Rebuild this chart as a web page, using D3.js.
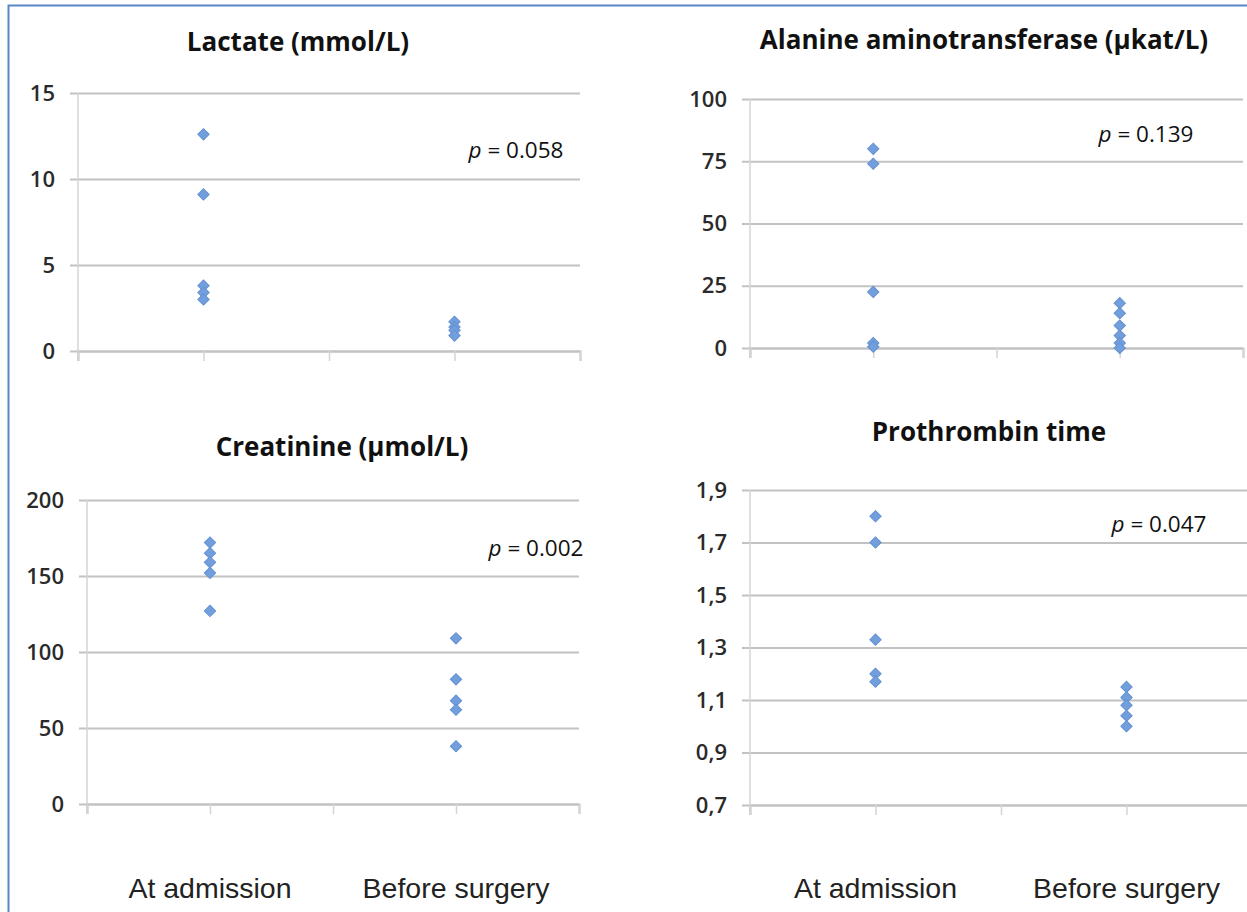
<!DOCTYPE html>
<html>
<head>
<meta charset="utf-8">
<script src="https://cdn.jsdelivr.net/npm/d3@7"></script>
<style>
  body { margin: 0; background: #fff; }
  svg { display: block; }
  .title { font-family: "Open Sans", sans-serif; font-weight: bold; font-size: 26px; fill: #111; }
  .tick text { font-family: "Open Sans", sans-serif; font-size: 22px; font-weight: 600; fill: #2a2a2a; }
  .cat { font-family: "Liberation Sans", Arial, sans-serif; font-size: 28.5px; fill: #222; }
  .pval { font-family: "Open Sans", sans-serif; font-size: 22.5px; fill: #111; }
</style>
</head>
<body>
<div id="chart"></div>
<script>
// data
let categories = ["At admission", "Before surgery"];

let lactateAdmission = [12.6, 9.1, 3.8, 3.4, 3.0];
let lactateSurgery = [1.7, 1.4, 1.2, 0.9];

let altAdmission = [80, 74, 22.5, 2, 0.5];
let altSurgery = [18, 14, 9, 5, 2, 0];

let creatAdmission = [172, 165, 159, 152, 127];
let creatSurgery = [109, 82, 68, 62, 38];

let ptAdmission = [1.8, 1.7, 1.33, 1.2, 1.17];
let ptSurgery = [1.15, 1.11, 1.08, 1.04, 1.0];

let titles = ["Lactate (mmol/L)", "Alanine aminotransferase (\u00b5kat/L)", "Creatinine (\u00b5mol/L)", "Prothrombin time"];
let pValues = ["0.058", "0.139", "0.002", "0.047"];

let lactateTicks = [0, 5, 10, 15];
let altTicks = [0, 25, 50, 75, 100];
let creatTicks = [0, 50, 100, 150, 200];
let ptTicks = [0.7, 0.9, 1.1, 1.3, 1.5, 1.7, 1.9];

let width = 1247, height = 912;

let svg = d3.select("#chart").append("svg")
    .attr("width", width)
    .attr("height", height);

// outer blue frame (runs off the right and bottom edges)
svg.append("rect")
    .attr("x", 8.5).attr("y", 5.5)
    .attr("width", 1260).attr("height", 920)
    .attr("fill", "none")
    .attr("stroke", "#5b86c5")
    .attr("stroke-width", 2);

let panels = [
  { title: titles[0], series: [lactateAdmission, lactateSurgery], domain: [0, 15], ticks: lactateTicks,
    x0: 78, x1: 580, y0: 351, y1: 93, titleX: 298, titleY: 51, pX: 516, pY: 158, p: pValues[0], cats: false },
  { title: titles[1], series: [altAdmission, altSurgery], domain: [0, 100], ticks: altTicks,
    x0: 750, x1: 1243, y0: 348, y1: 99, titleX: 984, titleY: 49, pX: 1146, pY: 142, p: pValues[1], cats: false },
  { title: titles[2], series: [creatAdmission, creatSurgery], domain: [0, 200], ticks: creatTicks,
    x0: 87, x1: 579, y0: 804, y1: 500, titleX: 342, titleY: 456, pX: 536, pY: 556, p: pValues[2], cats: true },
  { title: titles[3], series: [ptAdmission, ptSurgery], domain: [0.7, 1.9], ticks: ptTicks,
    x0: 750, x1: 1252, y0: 805, y1: 490, titleX: 989, titleY: 441, pX: 1159, pY: 532, p: pValues[3], cats: true, comma: true }
];

let diamond = d3.symbol().type(d3.symbolSquare).size(64);

panels.forEach(function(pn) {
  let g = svg.append("g");

  let xScale = d3.scaleLinear().domain([0, 2]).range([pn.x0, pn.x1]);
  let yScale = d3.scaleLinear().domain(pn.domain).range([pn.y0, pn.y1]);

  let fmt = pn.comma ? (d => d3.format(".1f")(d).replace(".", ",")) : d3.format("d");

  // y axis with gridlines
  let yAxis = d3.axisLeft(yScale)
      .tickValues(pn.ticks)
      .tickSize(-(pn.x1 - pn.x0) - 8)
      .tickPadding(15)
      .tickFormat(fmt);
  let gy = g.append("g")
      .attr("transform", "translate(" + (pn.x0 - 8) + ",0)")
      .call(yAxis);
  gy.select(".domain").remove();
  gy.selectAll(".tick line").attr("stroke", "#c2c2c2").attr("stroke-width", 2);

  // y axis line
  g.append("line")
      .attr("x1", pn.x0).attr("x2", pn.x0)
      .attr("y1", pn.y1).attr("y2", pn.y0 + 10)
      .attr("stroke", "#d4d4d4").attr("stroke-width", 1.5);

  // x axis ticks
  let xAxis = d3.axisBottom(xScale)
      .tickValues([0, 0.5, 1, 1.5, 2])
      .tickSize(10)
      .tickFormat("");
  let gx = g.append("g")
      .attr("transform", "translate(0," + pn.y0 + ")")
      .call(xAxis);
  gx.select(".domain").attr("stroke", "#c2c2c2").attr("stroke-width", 2);
  gx.selectAll(".tick line").attr("stroke", "#d4d4d4").attr("stroke-width", 1.5);

  // points
  pn.series.forEach(function(vals, i) {
    g.selectAll(null)
      .data(vals)
      .enter()
      .append("path")
      .attr("d", diamond)
      .attr("transform", d => "translate(" + xScale(i + 0.5) + "," + yScale(d) + ") rotate(45)")
      .attr("fill", "#729fdb")
      .attr("stroke", "#6391d4")
      .attr("stroke-width", 1);
  });

  g.append("text")
      .attr("class", "title")
      .attr("x", pn.titleX).attr("y", pn.titleY)
      .attr("text-anchor", "middle")
      .text(pn.title);

  let pt = g.append("text")
      .attr("class", "pval")
      .attr("x", pn.pX).attr("y", pn.pY)
      .attr("text-anchor", "middle");
  pt.append("tspan").attr("font-style", "italic").text("p");
  pt.append("tspan").text(" = " + pn.p);

  if (pn.cats) {
    g.selectAll(".cat-" + pn.x0)
      .data(categories)
      .enter()
      .append("text")
      .attr("class", "cat")
      .attr("x", (d, i) => xScale(i + 0.5))
      .attr("y", 898)
      .attr("text-anchor", "middle")
      .text(d => d);
  }
});
</script>
</body>
</html>
